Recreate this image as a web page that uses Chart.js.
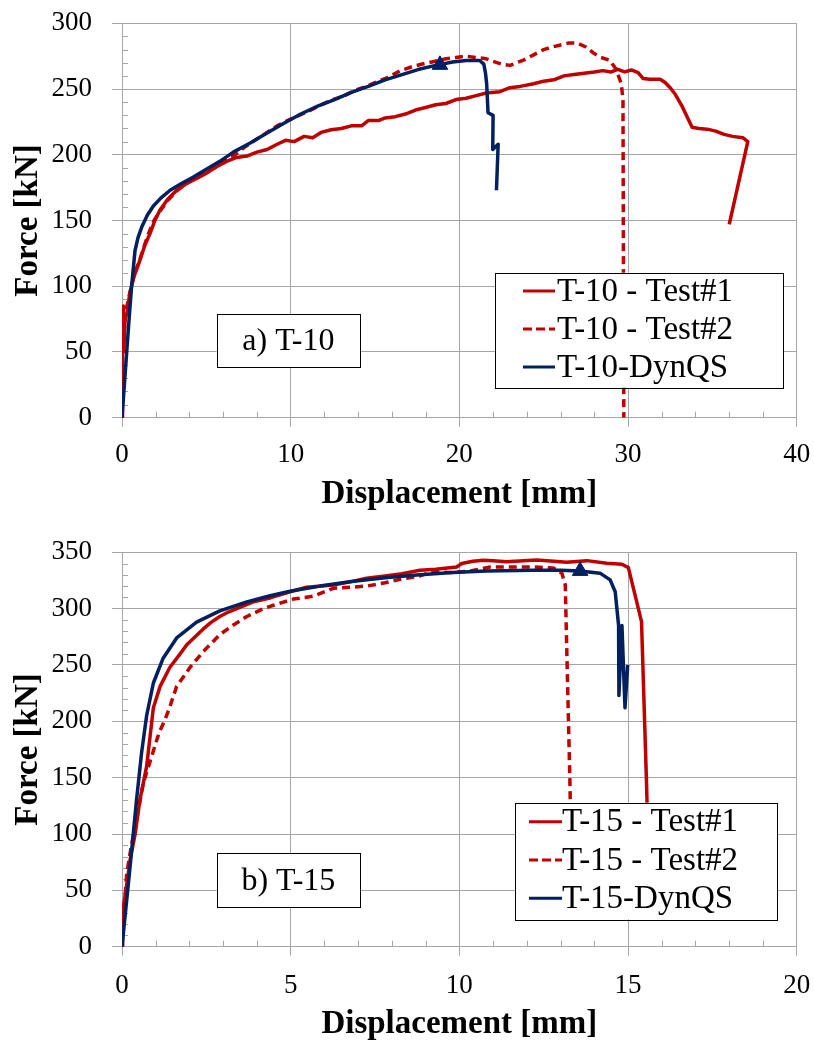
<!DOCTYPE html>
<html><head><meta charset="utf-8">
<script src="https://cdn.jsdelivr.net/npm/chart.js@4/dist/chart.umd.min.js"></script>
<style>html,body{margin:0;padding:0;background:#fff;}canvas{display:block;}</style>
</head><body>
<canvas id="c1" width="814" height="520"></canvas>
<canvas id="c2" width="814" height="521"></canvas>
<script>
// ---------- DATA ----------
const xTitle = 'Displacement [mm]';
const yTitle = 'Force [kN]';

// a) T-10
const t10Note = 'a) T-10';
const t10Labels = ['T-10 - Test#1', 'T-10 - Test#2', 'T-10-DynQS'];
const t10Test1 = [[0,0],[0.02,28],[0.04,60],[0.1,50],[0.18,75],[0.3,80],[0.47,95],[0.7,107],[1.07,120],[1.35,131],[1.66,140],[1.95,150],[2.25,158],[2.7,166],[3.24,173],[3.8,178],[4.43,182],[5.0,186],[5.6,191],[6.2,195],[6.8,198],[7.4,199],[8.0,202],[8.6,204],[9.2,208],[9.7,211],[10.2,210],[10.8,214],[11.3,213],[11.8,217],[12.4,219],[13.0,220],[13.6,222],[14.2,222],[14.6,226],[15.2,226],[15.6,228],[16.2,229],[16.8,231],[17.4,234],[18.0,236],[18.6,238],[19.2,239],[19.8,242],[20.4,243],[21.0,245],[21.6,247],[22.4,248],[23.0,251],[23.6,252],[24.4,254],[25.0,256],[25.6,257],[26.2,260],[26.8,261],[27.4,262],[28.0,263],[28.5,264],[29.0,263],[29.4,265],[29.8,263],[30.2,264.5],[30.6,262.5],[30.9,258],[31.3,257.5],[31.9,257.5],[32.2,255],[32.5,251],[32.8,246],[33.2,237],[33.5,229],[33.8,221],[34.2,220],[34.7,219.5],[35.2,218],[35.7,215.5],[36.2,214],[36.8,213],[37.1,210],[36.0,147]];
const t10Test2 = [[0,0],[0.02,40],[0.05,70],[0.08,85],[0.12,62],[0.2,80],[0.35,88],[0.5,97],[0.75,110],[1.0,118],[1.3,130],[1.6,141],[1.9,150],[2.25,157],[2.7,165],[3.2,172],[3.7,177],[4.3,182],[4.9,186],[5.5,190],[6.1,195],[6.7,200],[7.3,206],[8.0,212],[8.6,217],[9.2,222],[9.8,226],[10.5,230],[11.2,234],[11.8,238],[12.5,242],[13.2,245],[13.8,249],[14.5,252],[15.2,256],[15.8,259],[16.5,264],[17.2,267],[17.8,269],[18.5,271],[19.2,273],[19.8,274],[20.4,275],[21.0,274],[21.6,273],[22.0,271],[22.5,269],[23.0,268],[23.4,270],[23.8,272],[24.4,276],[25.0,280],[25.5,282],[26.0,283.5],[26.5,285],[27.0,285],[27.5,282],[28.0,277],[28.4,274],[28.9,272],[29.3,265],[29.6,254],[29.7,242],[29.72,150],[29.75,0]];
const t10Dyn = [[0,0],[0.14,25],[0.28,50],[0.42,75],[0.57,100],[0.77,127],[0.95,137],[1.17,145],[1.5,154],[1.86,161],[2.3,167],[2.85,173],[3.5,178],[4.23,183],[5.0,189],[5.8,195],[6.6,202],[7.6,209],[8.6,216.5],[9.6,224],[10.6,231],[11.6,237],[12.6,242],[13.6,247.5],[14.6,252],[15.6,257],[16.6,261],[17.6,265],[18.6,268],[19.6,270.5],[20.4,271.7],[21.2,271.7],[21.45,269],[21.55,262],[21.62,254],[21.7,232],[22.0,230],[21.98,204],[22.3,208],[22.2,173]];
const t10Marker = [[18.85,268.4]];

// b) T-15
const t15Note = 'b) T-15';
const t15Labels = ['T-15 - Test#1', 'T-15 - Test#2', 'T-15-DynQS'];
const t15Test1 = [[0,0],[0.02,18],[0.04,35],[0.14,55],[0.24,77],[0.39,100],[0.53,130],[0.73,160],[0.93,212],[1.13,231],[1.42,248],[1.7,259],[1.92,268],[2.2,276],[2.41,282],[2.65,288],[2.9,293],[3.15,297],[3.4,300],[3.89,306],[4.39,309.5],[4.98,315],[5.47,319],[6.26,321],[6.8,324],[7.25,327],[7.8,329],[8.3,331],[8.83,334],[9.3,335],[9.92,337],[10.07,340],[10.4,342],[10.71,343],[11.0,342.5],[11.4,341.7],[11.9,342.5],[12.29,343.2],[12.8,342],[13.18,341.2],[13.78,342.6],[14.37,340.3],[14.82,339.4],[15.01,336.4],[15.4,288.5],[15.55,143.5],[15.62,60]];
const t15Test2 = [[0,0],[0.04,24],[0.14,65],[0.28,90],[0.43,112],[0.63,145],[0.88,169],[1.1,190],[1.27,201],[1.42,213],[1.62,231],[2.02,248],[2.41,262],[2.9,277],[3.3,285.5],[3.7,293],[4.19,300],[4.49,303],[5.08,308.5],[5.67,311],[6.26,318],[6.8,319],[7.25,320],[7.8,323],[8.24,326],[8.83,329],[9.23,333],[9.7,332],[10.22,333],[10.6,335],[10.91,337],[11.5,337],[12.2,337],[12.79,336],[13.04,331.4],[13.14,321],[13.19,256],[13.28,143.5],[13.32,60]];
const t15Dyn = [[0,0],[0.24,71],[0.43,130],[0.58,172],[0.73,205],[0.93,234],[1.22,256],[1.62,274],[2.21,288],[2.9,298],[3.7,306],[4.39,311.5],[4.98,315.5],[5.87,320],[6.8,324],[7.8,327.5],[8.83,330],[9.8,332],[10.8,333.5],[12.2,334],[13.0,334],[13.58,333.5],[14.17,331.5],[14.47,325.5],[14.62,315],[14.72,285],[14.73,223],[14.82,285],[14.91,212],[14.99,250]];
const t15Marker = [[13.58,333.5]];

// ---------- STYLE / HELPERS ----------
const RED = '#c00000', NAVY = '#002060', GRID = '#a6a6a6';
const FONT = 'Liberation Serif';
const pts = a => a.map(p => ({x: p[0], y: p[1]}));

const minorTicks = {
  id: 'minorTicks',
  beforeDatasetsDraw(chart, args, o) {
    const {ctx, chartArea: ca} = chart;
    const xs = chart.scales.x, ys = chart.scales.y;
    ctx.save();
    ctx.strokeStyle = GRID; ctx.lineWidth = 1;
    ctx.beginPath();
    for (let v = ys.min; v <= ys.max + 1e-9; v += o.y) {
      if (Math.abs(v / o.yMajor - Math.round(v / o.yMajor)) < 1e-6) continue;
      const py = Math.round(ys.getPixelForValue(v)) + 0.5;
      ctx.moveTo(ca.left, py); ctx.lineTo(ca.left + 6, py);
    }
    for (let v = xs.min; v <= xs.max + 1e-9; v += o.x) {
      if (Math.abs(v / o.xMajor - Math.round(v / o.xMajor)) < 1e-6) continue;
      const px = Math.round(xs.getPixelForValue(v)) + 0.5;
      ctx.moveTo(px, ca.bottom); ctx.lineTo(px, ca.bottom - 6);
    }
    ctx.stroke();
    ctx.restore();
  }
};

const boxes = {
  id: 'boxes',
  afterDraw(chart, args, o) {
    const ctx = chart.ctx;
    ctx.save();
    const n = o.note;
    ctx.fillStyle = '#fff'; ctx.fillRect(n.x, n.y, n.w, n.h);
    ctx.strokeStyle = '#000'; ctx.lineWidth = 1;
    ctx.strokeRect(Math.round(n.x) + 0.5, Math.round(n.y) + 0.5, Math.round(n.w), Math.round(n.h));
    ctx.fillStyle = '#000'; ctx.font = '32px "' + FONT + '"';
    ctx.textAlign = 'center'; ctx.textBaseline = 'middle';
    ctx.fillText(n.text, n.x + n.w / 2, n.y + n.h / 2 + 1);
    const l = o.legend;
    ctx.fillStyle = '#fff'; ctx.fillRect(l.x, l.y, l.w, l.h);
    ctx.strokeStyle = '#000'; ctx.lineWidth = 1;
    ctx.strokeRect(Math.round(l.x) + 0.5, Math.round(l.y) + 0.5, Math.round(l.w), Math.round(l.h));
    const items = chart.data.datasets.filter(d => d.inLegend);
    items.forEach((d, i) => {
      const cy = l.y + l.first + i * l.gap;
      ctx.strokeStyle = d.borderColor; ctx.lineWidth = 3;
      ctx.setLineDash(d.borderDash ? [9, 4] : []);
      ctx.beginPath(); ctx.moveTo(l.sx, cy); ctx.lineTo(l.sx + l.sw, cy); ctx.stroke();
      ctx.setLineDash([]);
      ctx.fillStyle = '#000'; ctx.font = '33px "' + FONT + '"';
      ctx.textAlign = 'left'; ctx.textBaseline = 'middle';
      ctx.fillText(d.label, l.tx, cy + 1);
    });
    ctx.restore();
  }
};

function makeChart(id, H, c) {
  const line = (label, data, color, dash, order) => ({
    label, data: pts(data), borderColor: color, backgroundColor: color,
    borderWidth: 3.5, borderDash: dash, showLine: true, pointRadius: 0,
    tension: 0, order, inLegend: true, borderJoinStyle: 'round'
  });
  return new Chart(document.getElementById(id), {
    type: 'scatter',
    data: { datasets: [
      line(c.labels[0], c.s1, RED, undefined, 2),
      line(c.labels[1], c.s2, RED, [8, 5], 1),
      line(c.labels[2], c.s3, NAVY, undefined, 0),
      { label: 'marker', data: pts(c.marker), pointStyle: 'triangle', pointRadius: 9,
        backgroundColor: NAVY, borderColor: NAVY, borderWidth: 1, showLine: false, order: -1, inLegend: false }
    ]},
    plugins: [minorTicks, boxes],
    options: {
      responsive: false, animation: false, devicePixelRatio: 1,
      layout: { padding: { top: c.top, right: 814 - 796.7, left: 0, bottom: 0 } },
      plugins: {
        legend: { display: false }, tooltip: { enabled: false },
        minorTicks: { x: c.xMinor, y: c.yMinor, xMajor: c.xStep, yMajor: c.yStep },
        boxes: { note: c.note, legend: c.legend }
      },
      scales: {
        x: {
          type: 'linear', min: 0, max: c.xMax,
          ticks: { stepSize: c.xStep, color: '#000', font: { family: FONT, size: 27 }, padding: c.xTickPad, maxRotation: 0, autoSkip: false },
          grid: { color: GRID, tickColor: GRID, tickLength: 9, lineWidth: 1 },
          border: { color: GRID, width: 1 },
          title: { display: true, text: xTitle, color: '#000', font: { family: FONT, size: 33, weight: 'bold', lineHeight: 1 }, padding: { top: 0, bottom: c.xTitlePad } },
          afterFit: s => { s.height = H - c.bottom; s.paddingLeft = 0; s.paddingRight = 0; s.paddingTop = 0; s.paddingBottom = 0; }
        },
        y: {
          type: 'linear', min: 0, max: c.yMax,
          ticks: { stepSize: c.yStep, color: '#000', font: { family: FONT, size: 27 }, padding: 20, autoSkip: false },
          grid: { color: GRID, tickColor: GRID, tickLength: 10, lineWidth: 1 },
          border: { color: GRID, width: 1 },
          title: { display: true, text: yTitle, color: '#000', font: { family: FONT, size: 33, weight: 'bold', lineHeight: 1 }, padding: { top: 12, bottom: 0 } },
          afterFit: s => { s.width = 122; s.paddingLeft = 0; s.paddingRight = 0; s.paddingTop = 0; s.paddingBottom = 0; }
        }
      }
    }
  });
}

makeChart('c1', 520, {
  labels: t10Labels, s1: t10Test1, s2: t10Test2, s3: t10Dyn, marker: t10Marker,
  xMax: 40, xStep: 10, xMinor: 2, yMax: 300, yStep: 50, yMinor: 10,
  top: 23.3, bottom: 417.7, xTitlePad: 9, xTickPad: 12,
  note: { text: t10Note, x: 216.7, y: 314, w: 143.3, h: 53.3 },
  legend: { x: 495, y: 272.7, w: 288, h: 115, first: 18.3, gap: 38, sx: 523, sw: 32, tx: 557 }
});
makeChart('c2', 521, {
  labels: t15Labels, s1: t15Test1, s2: t15Test2, s3: t15Dyn, marker: t15Marker,
  xMax: 20, xStep: 5, xMinor: 1, yMax: 350, yStep: 50, yMinor: 10,
  top: 32.3, bottom: 426.7, xTitlePad: 0, xTickPad: 14,
  note: { text: t15Note, x: 216.7, y: 333.3, w: 143.3, h: 54 },
  legend: { x: 515, y: 282.7, w: 261.7, h: 116.6, first: 19, gap: 38.3, sx: 529, sw: 33, tx: 562 }
});
</script>
</body></html>
